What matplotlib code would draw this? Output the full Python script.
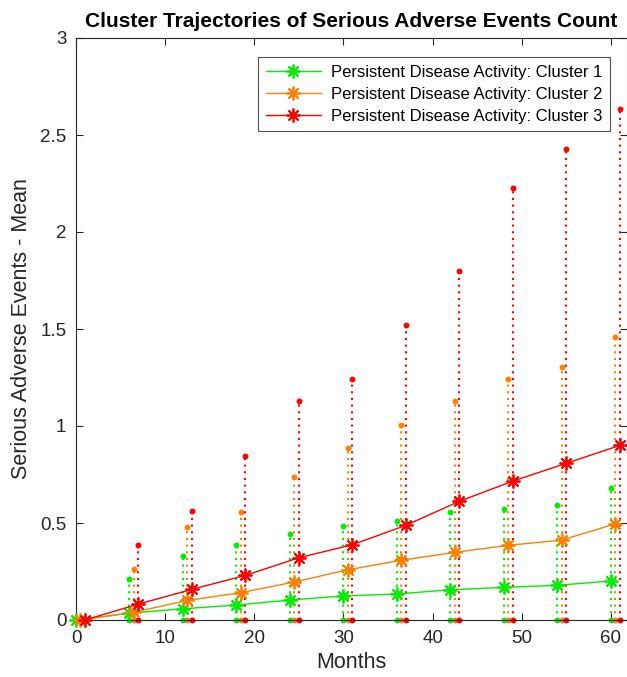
import numpy as np
import matplotlib
matplotlib.use('Agg')
import matplotlib.pyplot as plt

plt.rcParams['font.family'] = ['Liberation Sans', 'DejaVu Sans']

# Months of follow-up (each cluster is offset slightly so the bars don't overlap)
months = [0, 6, 12, 18, 24, 30, 36, 42, 48, 54, 60]
offsets = [0, 0.5, 1.0]

labels = ['Persistent Disease Activity: Cluster 1',
          'Persistent Disease Activity: Cluster 2',
          'Persistent Disease Activity: Cluster 3']
colors = ['#00ee00', '#ff8000', '#ff0000']

# Mean serious adverse events count per cluster
mean_c1 = [0, 0.035, 0.058, 0.077, 0.103, 0.124, 0.134, 0.156, 0.168, 0.179, 0.201]
mean_c2 = [0, 0.040, 0.101, 0.141, 0.196, 0.259, 0.308, 0.349, 0.385, 0.412, 0.496]
mean_c3 = [0, 0.082, 0.158, 0.230, 0.321, 0.388, 0.488, 0.612, 0.716, 0.808, 0.900]

# Upper end of the dotted spread lines (lower end is 0)
upper_c1 = [0, 0.213, 0.332, 0.388, 0.442, 0.485, 0.509, 0.555, 0.571, 0.594, 0.682]
upper_c2 = [0, 0.263, 0.478, 0.558, 0.739, 0.888, 1.007, 1.127, 1.242, 1.304, 1.457]
upper_c3 = [0, 0.387, 0.564, 0.845, 1.127, 1.244, 1.519, 1.800, 2.227, 2.430, 2.636]

means = [mean_c1, mean_c2, mean_c3]
uppers = [upper_c1, upper_c2, upper_c3]

fig = plt.figure(figsize=(6.27, 6.77), dpi=100)
ax = fig.add_axes([76 / 627, 1 - 620 / 677, 1 - 76 / 627, (620 - 38) / 677])

asterisk = (8, 2, 0)

for k in range(3):
    x = np.array(months) + offsets[k]
    # dotted vertical spread lines with dots at both ends
    for xi, up in zip(x[1:], uppers[k][1:]):
        ax.plot([xi, xi], [0, up], linestyle=(0, (1, 2.2)), color=colors[k],
                linewidth=1.5, marker='.', markersize=6.5, zorder=2, clip_on=False)
for k in range(3):
    x = np.array(months) + offsets[k]
    ax.plot(x, means[k], color=colors[k], linewidth=1.0, marker=asterisk,
            markersize=10, markeredgewidth=1.3, label=labels[k], zorder=3,
            clip_on=False)

ax.set_xlim(0, 61.8)
ax.set_ylim(0, 3)
ax.set_xticks([0, 10, 20, 30, 40, 50, 60])
ax.set_yticks([0, 0.5, 1, 1.5, 2, 2.5, 3])
ax.set_yticklabels(['0', '0.5', '1', '1.5', '2', '2.5', '3'])
ax.tick_params(direction='in', top=True, right=True, length=5, width=0.8,
               labelsize=13.5, colors='#262626', pad=7)
for s in ax.spines.values():
    s.set_color('#262626')
    s.set_linewidth(0.8)

ax.set_xlabel('Months', fontsize=15.5, color='#262626', labelpad=4)
ax.set_ylabel('Serious Adverse Events - Mean', fontsize=15.5, color='#262626',
              labelpad=6)
ax.set_title('Cluster Trajectories of Serious Adverse Events Count',
             fontsize=15, fontweight='bold', pad=8)

leg = ax.legend(loc='upper right', fontsize=12, frameon=True, fancybox=False,
                edgecolor='#262626', borderpad=0.45, labelspacing=0.42,
                handlelength=3.3, handletextpad=0.6, borderaxespad=0,
                bbox_to_anchor=(0.969, 0.967))
leg.get_frame().set_linewidth(0.8)

fig.savefig('out.png', dpi=100)
